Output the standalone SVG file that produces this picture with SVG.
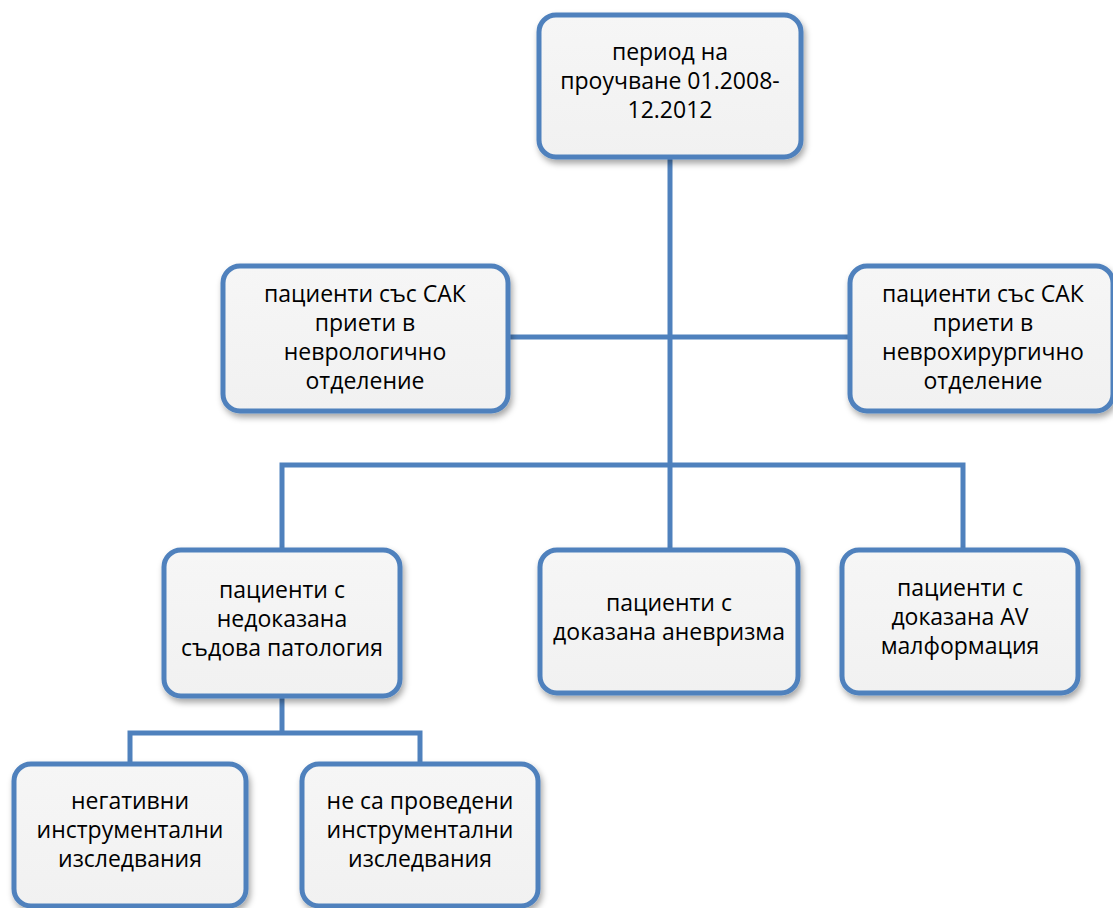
<svg xmlns="http://www.w3.org/2000/svg" width="1113" height="908" viewBox="0 0 1113 908">
<defs>
<filter id="sh" x="-10%" y="-10%" width="130%" height="140%">
<feDropShadow dx="2" dy="4" stdDeviation="3" flood-color="#000" flood-opacity="0.35"/>
</filter>
<linearGradient id="fg" x1="0" y1="0" x2="0" y2="1">
<stop offset="0" stop-color="#F6F6F6"/>
<stop offset="1" stop-color="#F1F1F1"/>
</linearGradient>
</defs>
<style>
.box{fill:url(#fg);stroke:#4F81BD;stroke-width:5;filter:url(#sh)}
.t{font-family:"Open Sans","Noto Sans","Liberation Sans",sans-serif;font-size:23px;fill:#000;text-anchor:middle}
.c{fill:none;stroke:#4F81BD;stroke-width:5;stroke-linejoin:miter}
</style>
<rect width="1113" height="908" fill="#fff"/>
<g id="connectors">
<path class="c" d="M670 158 V465"/>
<path class="c" d="M508 337 H850"/>
<path class="c" d="M282 548 V465 H963 V548"/>
<path class="c" d="M670 465 V548"/>
<path class="c" d="M282 698 V733"/>
<path class="c" d="M130 764 V733 H420 V764"/>
</g>
<g id="n_period">
<rect class="box" x="539" y="15" width="262" height="142" rx="17"/>
<text class="t" x="670" y="60">период на</text>
<text class="t" x="670" y="89">проучване 01.2008-</text>
<text class="t" x="670" y="118">12.2012</text>
</g>
<g id="n_nevro">
<rect class="box" x="223" y="266" width="285" height="145" rx="17"/>
<text class="t" x="365" y="302">пациенти със САК</text>
<text class="t" x="365" y="331">приети в</text>
<text class="t" x="365" y="360">неврологично</text>
<text class="t" x="365" y="389">отделение</text>
</g>
<g id="n_nevrohir">
<rect class="box" x="850" y="266" width="263" height="145" rx="17"/>
<text class="t" x="983" y="302">пациенти със САК</text>
<text class="t" x="983" y="331">приети в</text>
<text class="t" x="983" y="360">неврохирургично</text>
<text class="t" x="983" y="389">отделение</text>
</g>
<g id="n_nedokazana">
<rect class="box" x="164" y="550" width="236" height="146" rx="17"/>
<text class="t" x="282" y="598">пациенти с</text>
<text class="t" x="282" y="627">недоказана</text>
<text class="t" x="282" y="656">съдова патология</text>
</g>
<g id="n_anevrizma">
<rect class="box" x="540" y="550" width="258" height="143" rx="17"/>
<text class="t" x="669" y="611">пациенти с</text>
<text class="t" x="669" y="640">доказана аневризма</text>
</g>
<g id="n_av">
<rect class="box" x="842" y="550" width="236" height="143" rx="17"/>
<text class="t" x="960" y="596">пациенти с</text>
<text class="t" x="960" y="625">доказана AV</text>
<text class="t" x="960" y="654">малформация</text>
</g>
<g id="n_negativni">
<rect class="box" x="14" y="764" width="232" height="142" rx="17"/>
<text class="t" x="130" y="809">негативни</text>
<text class="t" x="130" y="838">инструментални</text>
<text class="t" x="130" y="867">изследвания</text>
</g>
<g id="n_neprovedeni">
<rect class="box" x="302" y="764" width="236" height="142" rx="17"/>
<text class="t" x="420" y="809">не са проведени</text>
<text class="t" x="420" y="838">инструментални</text>
<text class="t" x="420" y="867">изследвания</text>
</g>
</svg>
